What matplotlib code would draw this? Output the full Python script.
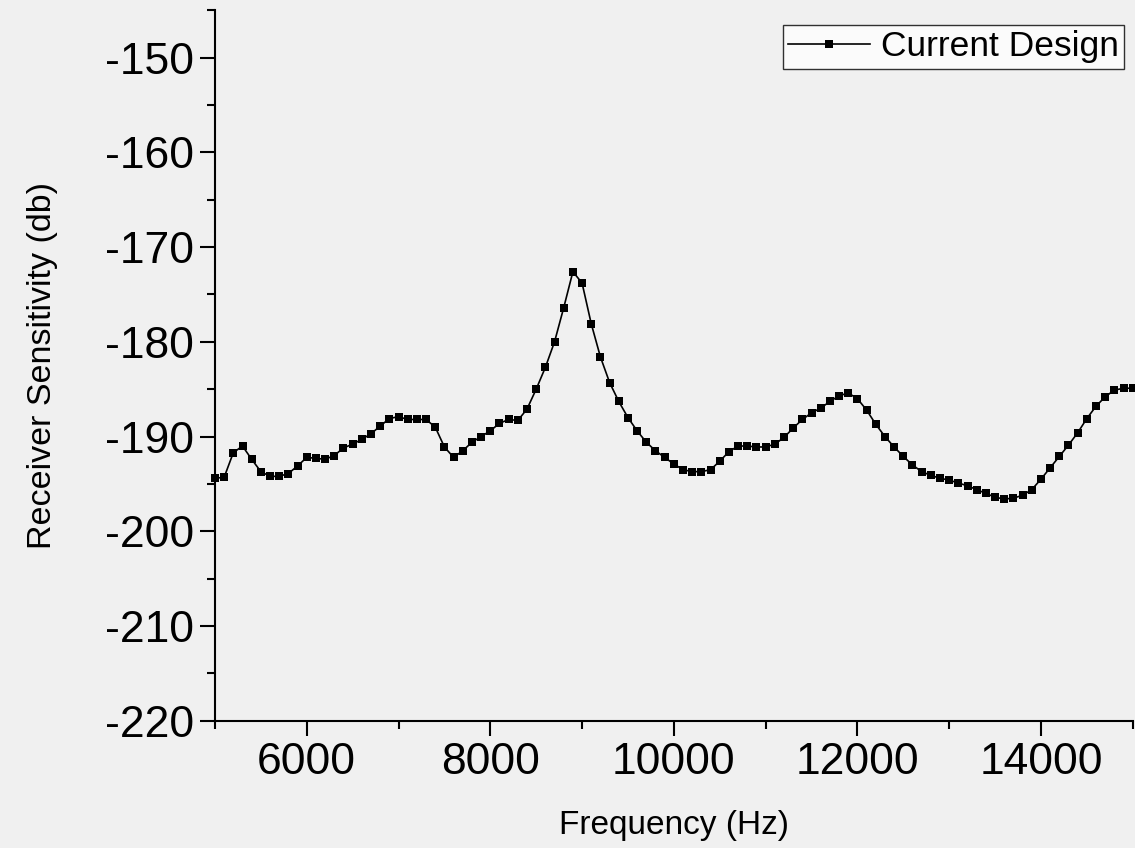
import matplotlib
matplotlib.use("Agg")
import matplotlib.pyplot as plt
from matplotlib.ticker import MultipleLocator
import numpy as np

# Data (100 Hz steps)
freq = np.arange(5000, 15001, 100)
sens = [-194.4, -194.3, -191.7, -191.0, -192.4, -193.7, -194.2, -194.2, -193.9, -193.1,
        -192.2, -192.3, -192.4, -192.0, -191.2, -190.8, -190.3, -189.7, -188.9, -188.1,
        -187.9, -188.2, -188.2, -188.2, -189.0, -191.1, -192.2, -191.5, -190.6, -190.0,
        -189.4, -188.6, -188.2, -188.3, -187.1, -185.0, -182.7, -180.0, -176.4, -172.6,
        -173.8, -178.1, -181.6, -184.3, -186.3, -188.0, -189.4, -190.6, -191.5, -192.2,
        -192.9, -193.5, -193.7, -193.7, -193.5, -192.6, -191.6, -191.0, -191.0, -191.1,
        -191.1, -190.8, -190.1, -189.1, -188.2, -187.5, -187.0, -186.3, -185.7, -185.4,
        -186.0, -187.2, -188.7, -190.0, -191.1, -192.1, -193.0, -193.7, -194.1, -194.4,
        -194.6, -194.9, -195.2, -195.6, -196.0, -196.4, -196.6, -196.5, -196.2, -195.6,
        -194.5, -193.3, -192.1, -190.9, -189.6, -188.1, -186.8, -185.8, -185.1, -184.9,
        -184.9]
series_name = 'Current Design'

plt.rcParams['font.family'] = ['Liberation Sans', 'DejaVu Sans']
plt.rcParams['axes.unicode_minus'] = False
bg = '#f0f0f0'

fig = plt.figure(figsize=(11.35, 8.48), dpi=100, facecolor=bg)
ax = fig.add_axes([0.1894, 0.150, 0.8086, 0.838], facecolor=bg)

ax.plot(freq, sens, color='black', lw=1.2, marker='s', markersize=6,
        markeredgewidth=0, label=series_name, clip_on=False)

ax.set_xlim(5000, 15000)
ax.set_ylim(-220, -145)
ax.xaxis.set_major_locator(MultipleLocator(2000))
ax.xaxis.set_minor_locator(MultipleLocator(1000))
ax.yaxis.set_major_locator(MultipleLocator(10))
ax.yaxis.set_minor_locator(MultipleLocator(5))

for s in ['top', 'right']:
    ax.spines[s].set_visible(False)
for s in ['left', 'bottom']:
    ax.spines[s].set_linewidth(1.5)

ax.tick_params(which='major', direction='out', length=11, width=1.5,
               labelsize=32, pad=4)
ax.tick_params(which='minor', direction='out', length=6, width=1.5)

ax.set_xlabel('Frequency (Hz)', fontsize=24, labelpad=20)
ax.set_ylabel('Receiver Sensitivity (db)', fontsize=24.5, labelpad=34)

leg = ax.legend(loc='upper left', bbox_to_anchor=(0.6187, 0.979), fontsize=25.5,
                frameon=True, fancybox=False, markerscale=0.9, handlelength=2.3,
                borderpad=0.15, handletextpad=0.33, borderaxespad=0)
leg.get_frame().set_edgecolor('black')
leg.get_frame().set_linewidth(1.0)
leg.get_frame().set_facecolor('white')
leg.set_clip_on(False)

fig.savefig('out.png', dpi=100, facecolor=bg)
